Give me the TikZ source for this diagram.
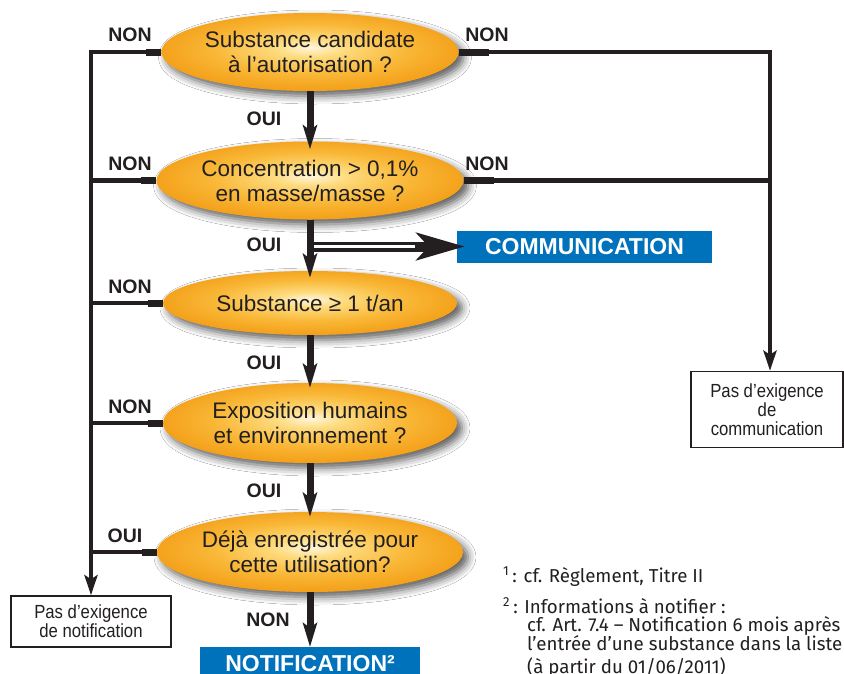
\documentclass[tikz,border=0pt]{standalone}
\usepackage{fontspec}
\setmainfont{Liberation Sans}
\newfontfamily\fnfont{Fira Sans}
\newfontfamily\condfont[FakeStretch=0.88]{Liberation Sans}
\usetikzlibrary{shapes.geometric,arrows.meta,shadows.blur}
\definecolor{ey1}{HTML}{FFF6DC}
\definecolor{ey2}{HTML}{FDDB7E}
\definecolor{ey3}{HTML}{F9B838}
\definecolor{ey4}{HTML}{F4A21C}
\definecolor{bleu}{HTML}{0072BC}
\definecolor{ink}{HTML}{231F20}
\pgfdeclareradialshading{ellshade}{\pgfpoint{0bp}{3bp}}{color(0bp)=(ey1); color(6bp)=(ey2); color(16bp)=(ey3); color(25bp)=(ey4); color(50bp)=(ey4)}
\tikzset{
  decision/.style={ellipse, shading=ellshade, minimum width=294pt, minimum height=78pt,
    inner sep=0pt, align=center, font=\fontsize{22.5}{25}\selectfont, text=ink,
    blur shadow={shadow xshift=5pt, shadow yshift=-5pt, shadow blur radius=8pt, shadow opacity=65}},
  lab/.style={font=\fontsize{19.5}{20}\selectfont\bfseries, text=ink, inner sep=0pt},
  side/.style={draw=ink, line width=4.5pt},
  stub/.style={draw=ink, line width=7pt},
  mainarrow/.style={draw=ink, line width=7pt, -{Stealth[length=24pt,width=14pt,inset=5pt]}},
  sidearrow/.style={side, -{Stealth[length=20pt,width=13pt,inset=4pt]}},
  endbox/.style={draw=ink, line width=1.5pt, fill=white, align=center,
    font=\condfont\fontsize{19}{19}\selectfont, text=ink, inner sep=0pt},
  bluebox/.style={fill=bleu, inner sep=0pt},
  bluetext/.style={text=white, font=\fontsize{23}{24}\selectfont\bfseries, inner sep=0pt},
  fn/.style={font=\fnfont\fontsize{18.7}{19}\selectfont, text=ink, inner sep=0pt, anchor=base west},
}
\begin{document}
\begin{tikzpicture}[x=1pt,y=-1pt]
\useasboundingbox (0,0) rectangle (844,673);
\fill[white] (0,0) rectangle (844,673);

% decisions
\node[decision] (e1) at (310,52) {Substance candidate\\à l’autorisation ?};
\node[decision] (e2) at (310,180.5) {Concentration > 0,1\%\\en masse/masse ?};
\node[decision, minimum height=64pt] (e3) at (310,303) {Substance ≥ 1 t/an};
\node[decision, minimum height=80pt] (e4) at (310,423) {Exposition humains\\et environnement ?};
\node[decision, minimum height=80pt] (e5) at (310,552) {Déjà enregistrée pour\\cette utilisation?};

% end boxes
\node[endbox, minimum width=160pt, minimum height=51pt] (lbox) at (91,621.5) {Pas d’exigence\\de notification};
\node[endbox, minimum width=152pt, minimum height=76pt] (rbox) at (767,409.5) {Pas d’exigence\\de\\communication};
\node[bluebox, minimum width=255pt, minimum height=32pt] (comm) at (584.5,246.5) {};
\node[bluetext] (commtext) at (comm.center) {COMMUNICATION};
\node[bluebox, anchor=north, minimum width=220pt, minimum height=40pt] (notif) at (310,647) {};
\node[bluetext, anchor=base] (notiftext) at (310,671) {NOTIFICATION²};

% left side
\coordinate (L1) at (91,52);
\draw[sidearrow] (e1.west) -- (L1) -- (lbox.north);
\draw[side] (e2.west) -- (e2.west -| L1);
\draw[side] (e3.west) -- (e3.west -| L1);
\draw[side] (e4.west) -- (e4.west -| L1);
\draw[side] (e5.west) -- (e5.west -| L1);
\foreach \e in {e1,e2,e3,e4,e5}{\draw[stub] (\e.west) -- ++(-15,0);}

% right side
\coordinate (R1) at (770,52);
\draw[sidearrow] (e1.east) -- (R1) -- (R1 |- rbox.north);
\draw[side] (e2.east) -- (e2.east -| R1);
\foreach \e in {e1,e2}{\draw[stub] (\e.east) -- ++(30,0);}

% central chain
\draw[mainarrow, shorten >=-8pt] (e1.south) -- (e2.north);
\draw[mainarrow, shorten >=-7pt] (e2.south) -- (e3.north);
\draw[mainarrow, shorten >=-5pt] (e3.south) -- (e4.north);
\draw[mainarrow, shorten >=-5pt] (e4.south) -- (e5.north);
\draw[mainarrow] (e5.south) -- (notif.north);

% double arrow to COMMUNICATION
\coordinate (cj) at (e2.south |- comm.west);
\draw[ink, line width=10pt, -{Stealth[length=48pt,width=27pt,inset=12pt]}, shorten >=-8pt] (cj) -- (comm.west);
\draw[white, line width=3.5pt, shorten <=4pt, shorten >=42pt] (cj) -- (comm.west);

% labels
\node[lab] (n1) at (130,35) {NON};
\node[lab] (n2) at (130,164) {NON};
\node[lab] (n3) at (130,287) {NON};
\node[lab] (n4) at (130,407) {NON};
\node[lab] (o5) at (125,536) {OUI};
\node[lab] (nr1) at (487,35) {NON};
\node[lab] (nr2) at (487,164) {NON};
\node[lab] (o1) at (264,119) {OUI};
\node[lab] (o2) at (264,245) {OUI};
\node[lab] (o3) at (264,363) {OUI};
\node[lab] (o4) at (264,491) {OUI};
\node[lab] (n6) at (268,620) {NON};

% footnotes
\node[fn] (f1) at (503,582) {\textsuperscript{1}\,: cf. Règlement, Titre II};
\node[fn] (f2) at (503,613) {\textsuperscript{2}\,: Informations à notifier :};
\node[fn] (f3) at (527,631) {cf. Art. 7.4 – Notification 6 mois après};
\node[fn] (f4) at (527,650) {l’entrée d’une substance dans la liste};
\node[fn] (f5) at (527,673) {(à partir du 01/06/2011)};
\end{tikzpicture}
\end{document}
